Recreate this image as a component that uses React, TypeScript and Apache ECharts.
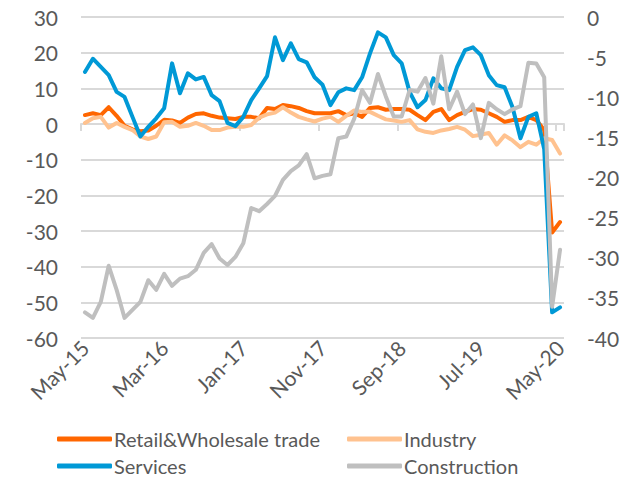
import React, { useEffect, useRef } from "react";
import * as echarts from "echarts";

const months: string[] = [
  "May-15","Jun-15","Jul-15","Aug-15","Sep-15","Oct-15","Nov-15","Dec-15",
  "Jan-16","Feb-16","Mar-16","Apr-16","May-16","Jun-16","Jul-16","Aug-16","Sep-16","Oct-16","Nov-16","Dec-16",
  "Jan-17","Feb-17","Mar-17","Apr-17","May-17","Jun-17","Jul-17","Aug-17","Sep-17","Oct-17","Nov-17","Dec-17",
  "Jan-18","Feb-18","Mar-18","Apr-18","May-18","Jun-18","Jul-18","Aug-18","Sep-18","Oct-18","Nov-18","Dec-18",
  "Jan-19","Feb-19","Mar-19","Apr-19","May-19","Jun-19","Jul-19","Aug-19","Sep-19","Oct-19","Nov-19","Dec-19",
  "Jan-20","Feb-20","Mar-20","Apr-20","May-20",
];

const retail: number[] = [
  2.5, 3, 2.5, 4.7, 2.3, -0.5, -1.5, -2, -1.8, -0.5,
  1.2, 1, 0.3, 1.8, 2.8, 3, 2.3, 1.8, 1.6, 1.4,
  2, 2, 1.6, 4.5, 4.2, 5.3, 5, 4.5, 3.6, 3,
  3, 3, 3.6, 2.5, 3, 2, 4.5, 4.7, 4, 4.2,
  4.2, 4, 2.5, 1.1, 3.4, 4.2, 1.1, 2.5, 3.4, 4.2,
  4, 3, 2, 0.6, 1.1, 1.1, 2, 1.1, -1.7, -30.4,
  -27.5,
];

const industry: number[] = [
  0.3, 1.6, 2, -1, 0.3, -0.8, -1.7, -3.5, -4.2, -3.5,
  0.5, 0.6, -0.8, -0.5, 0.3, -0.5, -1.7, -1.7, -1, -0.8,
  -0.8, -0.3, 1.8, 2.7, 3.2, 4.7, 3.2, 2, 1.3, 0.7,
  1.5, 2, 0.6, 2.3, 3.8, 3.4, 3.4, 2.3, 1.3, 1,
  0.6, 1.1, -1.5, -2.2, -2.5, -1.8, -1.4, -0.8, -1.6, -3.4,
  -3, -2.5, -5.8, -3.2, -4.6, -6.5, -5, -5.8, -4, -4.5,
  -8.3,
];

const services: number[] = [
  14.6, 18.3, 16, 13.7, 9, 7.6, 2, -3.5, -0.8, 1.6,
  4.4, 17, 8.6, 14.2, 12.5, 13.2, 8.1, 6.4, 0.3, -0.6,
  2, 6.7, 10, 13.4, 24.3, 17.9, 22.6, 18.2, 17.3, 13.1,
  11, 5.3, 8.9, 10, 9.5, 13.1, 19.8, 25.7, 24.3, 19.3,
  17, 9, 4.7, 6.7, 12.8, 10, 9.5, 16, 20.7, 21.5,
  19.3, 13.7, 10.9, 10.3, 4.7, -4, 2, 3, -7, -52.8,
  -51.4,
];

const construction: number[] = [
  -36.8, -37.5, -35.5, -31, -34, -37.5, -36.5, -35.5, -32.8, -34,
  -32, -33.5, -32.6, -32.3, -31.5, -29.4, -28.3, -30.1, -30.9, -29.9,
  -28.2, -23.8, -24.2, -23.3, -22.3, -20.3, -19.2, -18.5, -17.1, -20.1,
  -19.8, -19.6, -15.1, -14.9, -12.7, -9.1, -10.7, -7.1, -9.9, -12.4,
  -12.4, -9.1, -9.3, -7.6, -10.8, -4.9, -11.5, -9.3, -12.1, -10.9,
  -15.1, -10.7, -11.5, -12.1, -11.5, -11.1, -5.7, -5.8, -7.5, -36.1,
  -29,
];

const seriesNames = ["Retail&Wholesale trade", "Industry", "Services", "Construction"];
const seriesColors = ["#FF6600", "#FFC28F", "#0099D6", "#BFBFBF"];

const FONT = "Lato";
const TEXT = "#595959";
const GRID = "#D9D9D9";

export default function App() {
  const ref = useRef<HTMLDivElement>(null);
  useEffect(() => {
    if (!ref.current) return;
    const chart = echarts.init(ref.current, undefined, { renderer: "svg" });
    const dataSets = [retail, industry, services, construction];
    const legendPos = [
      { left: 57, top: 429 },
      { left: 347, top: 429 },
      { left: 57, top: 456 },
      { left: 347, top: 456 },
    ];
    chart.setOption({
      animation: false,
      grid: { left: 81, right: 71, top: 17, bottom: 141, containLabel: false },
      legend: seriesNames.map((n, i) => ({
        data: [n],
        left: legendPos[i].left,
        top: legendPos[i].top,
        icon: "roundRect",
        itemWidth: 55,
        itemHeight: 5,
        itemGap: 0,
        padding: 0,
        textStyle: { color: TEXT, fontFamily: FONT, fontSize: 20, padding: [0, 0, 0, -3] },
      })),
      xAxis: [
        {
          type: "category",
          data: months,
          boundaryGap: true,
          position: "bottom",
          axisLine: { show: false, onZero: false },
          axisTick: { show: false },
          axisLabel: {
            interval: 9,
            rotate: 45,
            margin: 6,
            color: TEXT,
            fontFamily: FONT,
            fontSize: 21,
          },
          splitLine: { show: false },
        },
        {
          type: "category",
          data: months,
          boundaryGap: true,
          position: "bottom",
          axisLine: { show: true, onZero: true, onZeroAxisIndex: 0, lineStyle: { color: GRID, width: 2 } },
          axisTick: { show: true, interval: 9, length: 7, lineStyle: { color: GRID, width: 2 } },
          axisLabel: { show: false },
          splitLine: { show: false },
        },
      ],
      yAxis: [
        {
          type: "value",
          min: -60,
          max: 30,
          interval: 10,
          position: "left",
          axisLine: { show: false },
          axisTick: { show: false },
          axisLabel: { color: TEXT, fontFamily: FONT, fontSize: 21, margin: 23 },
          splitLine: { lineStyle: { color: GRID, width: 2 } },
        },
        {
          type: "value",
          min: -40,
          max: 0,
          interval: 5,
          position: "right",
          axisLine: { show: false },
          axisTick: { show: false },
          axisLabel: { color: TEXT, fontFamily: FONT, fontSize: 21, margin: 23 },
          splitLine: { show: false },
        },
      ],
      series: seriesNames.map((n, i) => ({
        name: n,
        type: "line",
        xAxisIndex: 0,
        yAxisIndex: i === 3 ? 1 : 0,
        data: dataSets[i],
        showSymbol: false,
        symbol: "none",
        lineStyle: { color: seriesColors[i], width: 4, join: "round", cap: "round" },
        itemStyle: { color: seriesColors[i] },
      })),
    });
    return () => chart.dispose();
  }, []);
  return (
    <div
      ref={ref}
      style={{ position: "fixed", left: 0, top: 0, width: 635, height: 479, background: "#fff" }}
    />
  );
}
